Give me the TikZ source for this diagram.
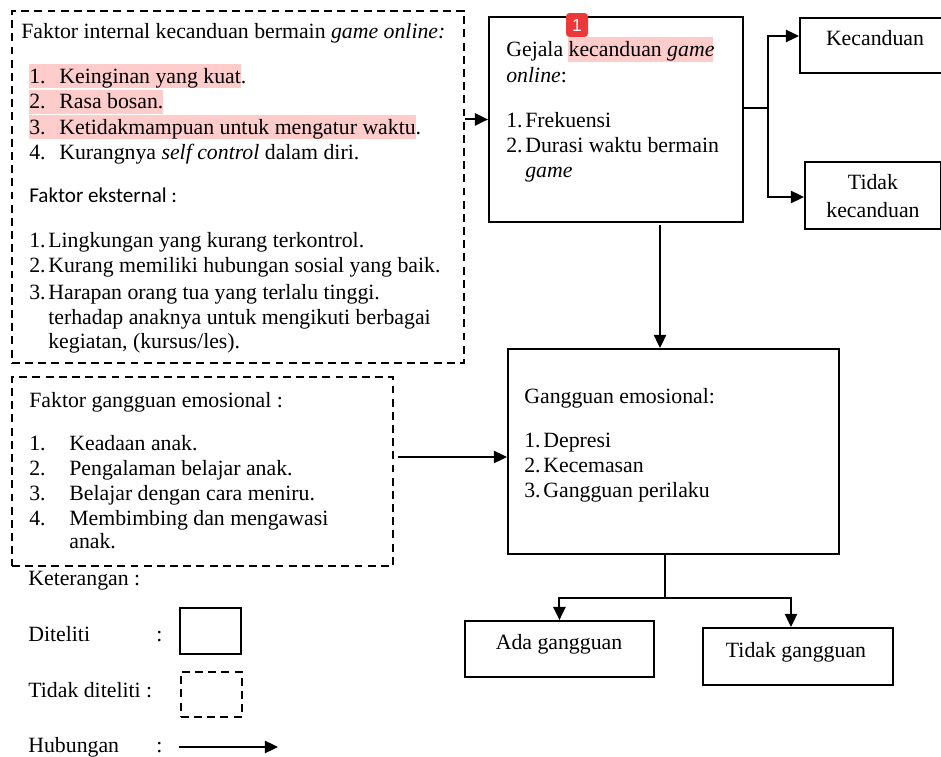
\documentclass[tikz,border=0pt]{standalone}
\usepackage{fontspec}
\setmainfont{Liberation Serif}
\newfontfamily\calibrifont{Carlito}
\newfontfamily\badgefont{Liberation Sans}
\usetikzlibrary{positioning,calc,arrows.meta}
\definecolor{hilite}{RGB}{255,204,204}
\definecolor{badgered}{RGB}{236,56,56}

\begin{document}
\begin{tikzpicture}[x=0.02cm, y=-0.02cm,
  font=\fontsize{12.4}{14}\selectfont,
  box/.style={draw, line width=1.1pt, inner sep=0pt, anchor=north west},
  dbox/.style={box, dash pattern=on 4.5pt off 3pt},
  txt/.style={anchor=base west, inner sep=0pt},
  ctr/.style={anchor=base, inner sep=0pt},
  fl/.style={-{Triangle[length=7.5pt,width=7pt]}, line width=1.1pt},
  ln/.style={line width=0.8pt},
]
  \useasboundingbox (0,0) rectangle (941,757);

  %=================== highlights ===================
  \fill[hilite] (29,64) rectangle (241,88);
  \fill[hilite] (29,90) rectangle (163,114);
  \fill[hilite] (29,115) rectangle (416,139);
  \fill[hilite] (568,37) rectangle (713,62);

  %=================== faktor internal / eksternal ===================
  \node[dbox, minimum width=9.04cm, minimum height=7.04cm] (faktor) at (11,10) {};
  \node[txt] (fint) at (21,39) {Faktor internal kecanduan bermain \textit{game online:}};
  \node[txt] (fi1n) at (29,84)  {1.};
  \node[txt] (fi1)  at (59,84)  {Keinginan yang kuat.};
  \node[txt] (fi2n) at (29,109) {2.};
  \node[txt] (fi2)  at (59,109) {Rasa bosan.};
  \node[txt] (fi3n) at (29,135) {3.};
  \node[txt] (fi3)  at (59,135) {Ketidakmampuan untuk mengatur waktu.};
  \node[txt] (fi4n) at (29,160) {4.};
  \node[txt] (fi4)  at (59,160) {Kurangnya \textit{self control} dalam diri.};

  \node[txt, font=\calibrifont\fontsize{12}{14}\selectfont] (fext) at (29,203) {Faktor eksternal :};
  \node[txt] (fe1n) at (29,248) {1.};
  \node[txt] (fe1)  at (48,248) {Lingkungan yang kurang terkontrol.};
  \node[txt] (fe2n) at (29,273) {2.};
  \node[txt] (fe2)  at (48,273) {Kurang memiliki hubungan sosial yang baik.};
  \node[txt] (fe3n) at (29,299) {3.};
  \node[txt] (fe3)  at (48,299) {Harapan orang tua yang terlalu tinggi.};
  \node[txt] (fe3b) at (48,324) {terhadap anaknya untuk mengikuti berbagai};
  \node[txt] (fe3c) at (48,348) {kegiatan, (kursus/les).};

  %=================== faktor gangguan emosional ===================
  \node[dbox, minimum width=7.62cm, minimum height=3.78cm] (emo) at (11,376) {};
  \node[txt] (femo) at (29,407) {Faktor gangguan emosional :};
  \node[txt] (fg1n) at (29,450) {1.};
  \node[txt] (fg1)  at (69,450) {Keadaan anak.};
  \node[txt] (fg2n) at (29,475) {2.};
  \node[txt] (fg2)  at (69,475) {Pengalaman belajar anak.};
  \node[txt] (fg3n) at (29,500) {3.};
  \node[txt] (fg3)  at (69,500) {Belajar dengan cara meniru.};
  \node[txt] (fg4n) at (29,525) {4.};
  \node[txt] (fg4)  at (69,525) {Membimbing dan mengawasi};
  \node[txt] (fg4b) at (69,548) {anak.};

  %=================== gejala kecanduan ===================
  \node[box, minimum width=5.08cm, minimum height=4.1cm] (gejala) at (488,16) {};
  \node[txt] (gj0)  at (506,57)  {Gejala kecanduan \textit{game}};
  \node[txt] (gj0b) at (506,83)  {\textit{online}:};
  \node[txt] (gj1n) at (506,128) {1.};
  \node[txt] (gj1)  at (525,128) {Frekuensi};
  \node[txt] (gj2n) at (506,153) {2.};
  \node[txt] (gj2)  at (525,153) {Durasi waktu bermain};
  \node[txt] (gj2b) at (525,178) {\textit{game}};
  \node[fill=badgered, rounded corners=2pt, minimum width=0.44cm, minimum height=0.48cm,
        inner sep=0pt, text=white, font=\badgefont\fontsize{10}{12}\selectfont] (badge) at (577,25) {1};

  \node[box, minimum width=2.84cm, minimum height=1.1cm] (kec) at (799,17) {};
  \node[ctr] (kect) at (875,46) {Kecanduan};
  \node[box, minimum width=2.72cm, minimum height=1.34cm] (tkec) at (804,161) {};
  \node[ctr] (tkect)  at (873,190) {Tidak};
  \node[ctr] (tkectb) at (873,217) {kecanduan};

  \coordinate (split) at (768,108);
  \draw[ln] (gejala.east |- split) -- (split);
  \draw[fl] (split) -- (768,36) -- (kec.west |- 0,36);
  \draw[fl] (split) -- (768,197) -- (tkec.west |- 0,197);

  %=================== gangguan emosional ===================
  \node[box, minimum width=6.62cm, minimum height=4.1cm] (gangguan) at (507,348) {};
  \node[txt] (gg0)  at (524,403) {Gangguan emosional:};
  \node[txt] (gg1n) at (524,447) {1.};
  \node[txt] (gg1)  at (543,447) {Depresi};
  \node[txt] (gg2n) at (524,472) {2.};
  \node[txt] (gg2)  at (543,472) {Kecemasan};
  \node[txt] (gg3n) at (524,497) {3.};
  \node[txt] (gg3)  at (543,497) {Gangguan perilaku};

  \node[box, minimum width=3.78cm, minimum height=1.12cm] (ada) at (464,620) {};
  \node[ctr] (adat) at (559,649) {Ada gangguan};
  \node[box, minimum width=3.8cm, minimum height=1.14cm] (tgg) at (702,627) {};
  \node[ctr] (tggt) at (796,657) {Tidak gangguan};

  \coordinate (junc) at (665,598);
  \draw[ln] (gangguan.south -| junc) -- (junc);
  \draw[fl] (junc) -| (ada.north);
  \draw[fl] (junc) -| (tgg.north -| 791,0);

  %=================== hubungan ===================
  \draw[fl] (faktor.east |- gejala.west) -- (gejala.west);
  \draw[fl] (660,225) -- (gangguan.north -| 660,0);
  \draw[fl] (398,457) -- (gangguan.west |- 0,457);

  %=================== keterangan ===================
  \node[txt] (ket) at (28,585) {Keterangan :};
  \node[txt] (ld1) at (28,641) {Diteliti};
  \node[txt] (lc1) at (156,641) {:};
  \node[box, minimum width=1.22cm, minimum height=0.92cm] (lbox1) at (179,607) {};
  \node[txt] (ld2) at (28,697) {Tidak diteliti :};
  \node[dbox, minimum width=1.22cm, minimum height=0.9cm] (lbox2) at (180,671) {};
  \node[txt] (ld3) at (28,752) {Hubungan};
  \node[txt] (lc3) at (156,752) {:};
  \coordinate (larr) at (179,747);
  \draw[fl] (larr) -- ++(99,0);
\end{tikzpicture}
\end{document}
